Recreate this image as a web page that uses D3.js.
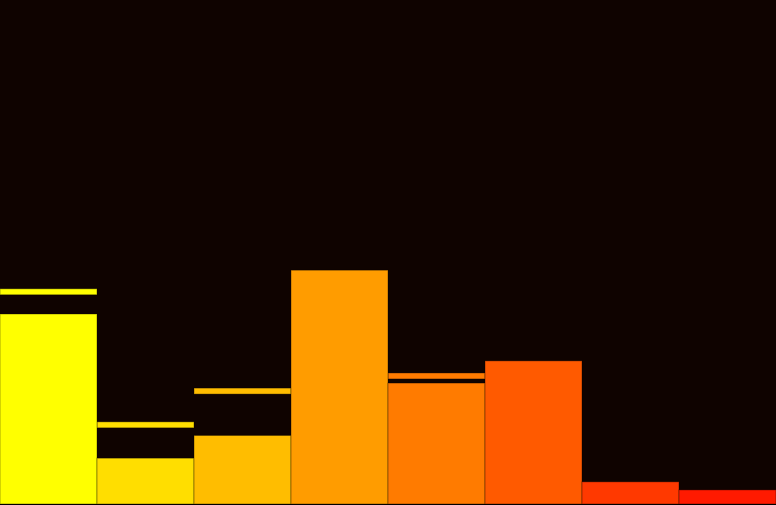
<!DOCTYPE html>
<html>
<head>
<meta charset="utf-8">
<script src="https://cdn.jsdelivr.net/npm/d3@7"></script>
<style>
html, body { margin: 0; padding: 0; background: #0f0300; overflow: hidden; }
svg { display: block; }
</style>
</head>
<body>
<script>
const categories = ["A", "B", "C", "D", "E", "F", "G", "H"];
const values = [37.7, 9.1, 13.6, 46.4, 24.0, 28.4, 4.4, 2.8];
const previous = [42.7, 16.3, 23.0, null, 26.0, null, null, null];
const colors = ["#ffff00", "#ffde00", "#ffbd00", "#ff9c00", "#ff7b00", "#ff5a00", "#ff3900", "#ff1a00"];

const W = 776, H = 505, baseY = 504;
const svg = d3.select("body").append("svg").attr("width", W).attr("height", H);
svg.append("rect").attr("width", W).attr("height", H).attr("fill", "#0f0300");

const x = d3.scaleBand().domain(categories).range([0, W]).padding(0);
const y = d3.scaleLinear().domain([0, 100]).range([baseY, 0]);
const color = d3.scaleOrdinal().domain(categories).range(colors);

const data = categories.map((c, i) => ({ c, v: values[i], p: previous[i] }));

svg.append("g").selectAll("rect").data(data.filter(d => d.p != null)).join("rect")
  .attr("x", d => x(d.c))
  .attr("width", x.bandwidth())
  .attr("y", d => y(d.p))
  .attr("height", 6)
  .attr("fill", d => color(d.c))
  .attr("stroke", "rgba(0,0,0,0.35)")
  .attr("stroke-width", 1);

svg.append("g").selectAll("rect").data(data).join("rect")
  .attr("x", d => x(d.c))
  .attr("width", x.bandwidth())
  .attr("y", d => y(d.v))
  .attr("height", d => baseY - y(d.v))
  .attr("fill", d => color(d.c))
  .attr("stroke", "rgba(0,0,0,0.35)")
  .attr("stroke-width", 1);

svg.append("line").attr("x1", 0).attr("x2", W).attr("y1", baseY + 0.5).attr("y2", baseY + 0.5)
  .attr("stroke", "#000").attr("stroke-width", 1);
</script>
</body>
</html>
